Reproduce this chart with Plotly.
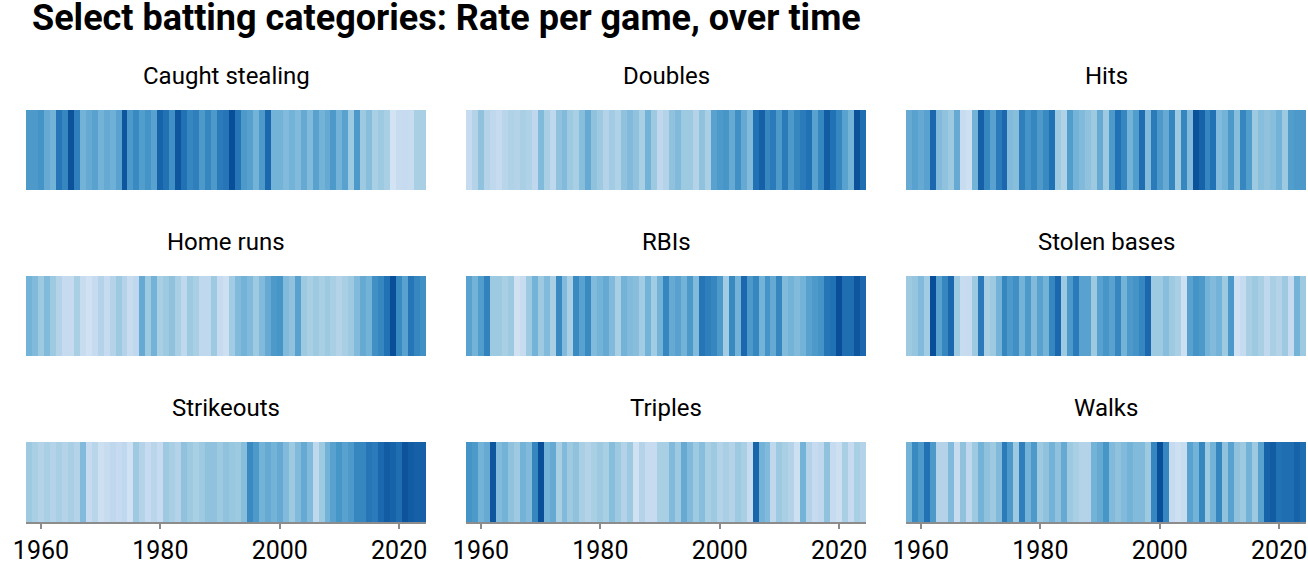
import plotly.graph_objects as go
from plotly.subplots import make_subplots

years = list(range(1958, 2025))

categories = ["Caught stealing", "Doubles", "Hits",
              "Home runs", "RBIs", "Stolen bases",
              "Strikeouts", "Triples", "Walks"]

# Relative rate level per year (0 = lowest, 1 = highest), read from the stripes
caught_stealing = [0.6,0.6,0.63,0.5,0.45,0.78,0.7,0.98,0.73,0.45,0.5,0.55,0.45,0.5,0.47,0.55,0.95,0.6,0.68,0.58,
                   0.63,0.55,0.88,0.8,0.65,0.95,0.8,0.7,0.73,0.6,0.7,0.6,0.75,0.78,1.0,0.78,0.6,0.56,0.45,0.6,
                   0.85,0.45,0.45,0.4,0.45,0.4,0.5,0.4,0.55,0.45,0.5,0.6,0.45,0.55,0.3,0.6,0.3,0.38,0.25,0.3,
                   0.25,0.0,0.1,0.12,0.1,0.25,0.25]
doubles = [0.12,0.2,0.35,0.2,0.15,0.12,0.18,0.22,0.2,0.25,0.22,0.15,0.4,0.25,0.15,0.35,0.4,0.3,0.25,0.38,
           0.5,0.35,0.3,0.2,0.28,0.22,0.35,0.4,0.35,0.25,0.45,0.3,0.15,0.2,0.35,0.4,0.3,0.3,0.2,0.35,
           0.25,0.55,0.6,0.62,0.5,0.65,0.5,0.4,0.8,0.9,0.7,0.75,0.6,0.75,0.6,0.7,0.75,0.8,0.55,0.7,
           0.92,0.8,0.7,0.55,0.45,0.98,0.82]
hits = [0.5,0.55,0.5,0.55,0.85,0.4,0.35,0.3,0.5,0.1,0.05,0.45,0.9,0.7,0.55,0.75,0.85,0.4,0.38,0.73,
        0.63,0.7,0.6,0.68,0.8,0.3,0.22,0.58,0.45,0.4,0.35,0.3,0.5,0.3,0.6,0.8,0.7,0.45,0.58,0.82,
        0.4,0.75,0.6,0.5,0.7,0.3,0.7,0.4,0.98,0.88,0.7,0.8,0.4,0.45,0.6,0.38,0.7,0.58,0.3,0.38,
        0.35,0.38,0.45,0.3,0.58,0.6,0.6]
home_runs = [0.45,0.4,0.3,0.4,0.3,0.2,0.12,0.12,0.25,0.1,0.03,0.12,0.2,0.12,0.2,0.3,0.2,0.1,0.15,0.5,
             0.3,0.45,0.25,0.3,0.35,0.25,0.15,0.3,0.25,0.15,0.15,0.3,0.12,0.05,0.28,0.4,0.45,0.4,0.3,0.4,
             0.5,0.6,0.62,0.4,0.35,0.55,0.3,0.25,0.3,0.25,0.3,0.25,0.2,0.25,0.3,0.4,0.5,0.45,0.65,0.7,
             0.8,1.0,0.68,0.55,0.78,0.7,0.65]
rbis = [0.55,0.45,0.58,0.72,0.3,0.3,0.25,0.3,0.02,0.1,0.3,0.45,0.3,0.4,0.25,0.68,0.4,0.25,0.68,0.55,
        0.68,0.4,0.45,0.5,0.4,0.25,0.45,0.4,0.38,0.28,0.45,0.28,0.45,0.7,0.5,0.55,0.45,0.6,0.4,0.78,
        0.73,0.7,0.6,0.28,0.68,0.45,0.85,0.6,0.7,0.45,0.63,0.5,0.7,0.4,0.45,0.4,0.45,0.55,0.6,0.63,
        0.78,0.8,1.0,0.82,0.82,0.95,0.85]
stolen_bases = [0.3,0.33,0.4,0.28,1.0,0.55,0.7,0.85,0.3,0.1,0.12,0.3,0.75,0.25,0.3,0.45,0.7,0.6,0.65,0.45,
                0.6,0.4,0.55,0.45,0.7,0.85,0.3,0.6,0.75,0.55,0.55,0.3,0.55,0.62,0.55,0.7,0.45,0.6,0.63,0.7,
                0.85,0.3,0.3,0.38,0.3,0.25,0.05,0.55,0.63,0.6,0.45,0.4,0.45,0.3,0.6,0.03,0.12,0.25,0.3,0.25,
                0.15,0.25,0.2,0.3,0.12,0.45,0.3]
strikeouts = [0.3,0.25,0.2,0.25,0.2,0.25,0.2,0.25,0.2,0.4,0.12,0.18,0.05,0.1,0.15,0.12,0.15,0.03,0.3,0.2,
              0.12,0.18,0.12,0.3,0.25,0.2,0.35,0.3,0.25,0.3,0.35,0.35,0.3,0.35,0.32,0.3,0.38,0.68,0.6,0.45,
              0.5,0.45,0.5,0.4,0.3,0.4,0.5,0.4,0.15,0.3,0.45,0.55,0.62,0.55,0.6,0.7,0.7,0.78,0.75,0.85,
              0.92,0.88,0.82,0.97,0.92,0.9,0.9]
triples = [0.63,0.6,0.45,0.5,0.95,0.4,0.45,0.35,0.3,0.45,0.4,0.7,1.0,0.45,0.5,0.25,0.4,0.3,0.35,0.25,
           0.2,0.25,0.3,0.25,0.38,0.3,0.2,0.3,0.03,0.2,0.12,0.12,0.25,0.25,0.4,0.3,0.5,0.4,0.3,0.38,
           0.25,0.3,0.2,0.25,0.2,0.3,0.25,0.12,0.87,0.45,0.4,0.15,0.3,0.25,0.2,0.05,0.45,0.2,0.12,0.15,
           0.35,0.12,0.05,0.25,0.12,0.25,0.2]
walks = [0.45,0.68,0.6,0.8,0.6,0.2,0.2,0.4,0.1,0.35,0.15,0.3,0.45,0.35,0.3,0.4,0.75,0.6,0.3,0.73,
         0.45,0.6,0.3,0.35,0.45,0.35,0.5,0.3,0.25,0.2,0.2,0.45,0.5,0.62,0.4,0.35,0.4,0.45,0.4,0.4,
         0.3,0.7,1.0,0.7,0.12,0.05,0.1,0.55,0.45,0.7,0.3,0.45,0.7,0.35,0.55,0.35,0.3,0.45,0.3,0.55,
         0.88,0.92,0.8,0.82,0.82,0.88,0.82]

series = [caught_stealing, doubles, hits, home_runs, rbis, stolen_bases, strikeouts, triples, walks]

tick_vals = [1960, 1980, 2000, 2020]
tick_text = ["1960", "1980", "2000", "2020"]

colorscale = [
    [0.0, "rgb(210,227,243)"],
    [0.12, "rgb(198,219,239)"],
    [0.3, "rgb(158,202,225)"],
    [0.48, "rgb(107,174,214)"],
    [0.64, "rgb(66,146,198)"],
    [0.8, "rgb(33,113,181)"],
    [1.0, "rgb(8,78,152)"],
]

W, H = 1308, 566
ml, mr, mt, mb = 26, 2, 110, 44

fig = make_subplots(rows=3, cols=3, horizontal_spacing=40 / (W - ml - mr),
                    vertical_spacing=86 / (H - mt - mb))

for i, (name, vals) in enumerate(zip(categories, series)):
    r, c = i // 3 + 1, i % 3 + 1
    fig.add_trace(go.Heatmap(z=[vals], x=years, y=[0], zmin=0, zmax=1,
                             colorscale=colorscale, showscale=False,
                             hovertemplate="%{x}: %{z:.2f}<extra>" + name + "</extra>"),
                  row=r, col=c)
    fig.update_xaxes(range=[1957.5, 2024.5], showgrid=False, zeroline=False,
                     automargin=False, row=r, col=c)
    fig.update_yaxes(visible=False, range=[-0.5, 0.5], automargin=False, row=r, col=c)
    if r == 3:
        fig.update_xaxes(showline=True, linecolor="#8c8c8c", linewidth=2, ticks="outside",
                         tickcolor="#8c8c8c", ticklen=5, tickwidth=2,
                         tickvals=tick_vals, ticktext=tick_text,
                         tickfont=dict(size=25, color="black", family="Roboto"),
                         row=r, col=c)
    else:
        fig.update_xaxes(visible=False, row=r, col=c)
    xa = fig.get_subplot(r, c).xaxis.domain
    ya = fig.get_subplot(r, c).yaxis.domain
    fig.add_annotation(text=name, x=(xa[0] + xa[1]) / 2, y=ya[1], xref="paper", yref="paper",
                       xanchor="center", yanchor="bottom", yshift=18, showarrow=False,
                       font=dict(size=24, color="black", family="Roboto"))

fig.update_layout(
    width=W, height=H,
    margin=dict(l=ml, r=mr, t=mt, b=mb, autoexpand=False),
    paper_bgcolor="white", plot_bgcolor="white",
    font=dict(family="Roboto"),
    title=dict(text="<b>Select batting categories: Rate per game, over time</b>",
               xref="container", yref="container", x=32 / W, xanchor="left",
               y=1 - 17 / H, yanchor="middle",
               font=dict(size=36, color="black", family="Roboto")),
)

fig.write_html("out.html", config={"displayModeBar": False},
               post_script="document.body.style.margin='0';document.body.style.overflow='hidden';")
